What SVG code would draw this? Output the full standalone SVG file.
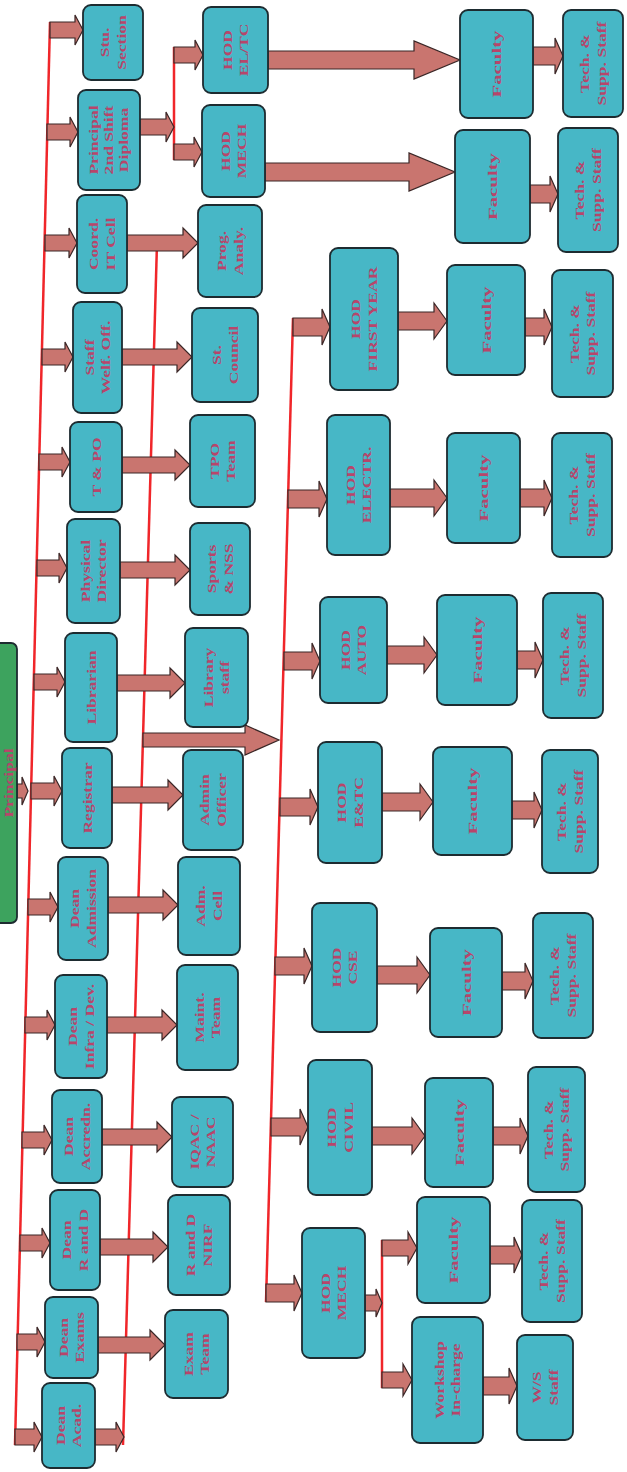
<svg xmlns="http://www.w3.org/2000/svg" width="627" height="1472" viewBox="0 0 627 1472">
<style>
.box{fill:#47b7c6;stroke:#1d2b30;stroke-width:1.8}
.top{fill:#3da35e;stroke:#1d2b30;stroke-width:1.8}
.arr{fill:#c9756f;stroke:#3a2626;stroke-width:1.2;stroke-linejoin:miter}
.bus{fill:none;stroke:#f0262a;stroke-width:2.5}
.lbl{font-family:"Liberation Serif",serif;font-weight:bold;font-size:13px;fill:#b8456a;text-anchor:middle}
</style>
<rect width="627" height="1472" fill="#ffffff"/>
<g id="connectors">
<path class="bus" d="M50,22 L15,1445"/>
<path class="bus" d="M157,243 L123,1445"/>
<path class="bus" d="M293,318 L266,1302"/>
<path class="bus" d="M174,47 L174,160"/>
<path class="bus" d="M382,1240 L382,1388"/>
<polygon class="arr" points="17,784 22,784 22,777 28,791 22,805 22,798 17,798"/>
<polygon class="arr" points="50,22 75,22 75,15 83,30 75,45 75,38 50,38"/>
<polygon class="arr" points="47,124 70,124 70,117 78,132 70,147 70,140 47,140"/>
<polygon class="arr" points="45,235 69,235 69,228 77,243 69,258 69,251 45,251"/>
<polygon class="arr" points="42,349 65,349 65,342 73,357 65,372 65,365 42,365"/>
<polygon class="arr" points="39,454 62,454 62,447 70,462 62,477 62,470 39,470"/>
<polygon class="arr" points="37,560 59,560 59,553 67,568 59,583 59,576 37,576"/>
<polygon class="arr" points="34,674 57,674 57,667 65,682 57,697 57,690 34,690"/>
<polygon class="arr" points="31,783 54,783 54,776 62,791 54,806 54,799 31,799"/>
<polygon class="arr" points="28,899 50,899 50,892 58,907 50,922 50,915 28,915"/>
<polygon class="arr" points="25,1017 47,1017 47,1010 55,1025 47,1040 47,1033 25,1033"/>
<polygon class="arr" points="22,1132 44,1132 44,1125 52,1140 44,1155 44,1148 22,1148"/>
<polygon class="arr" points="20,1235 42,1235 42,1228 50,1243 42,1258 42,1251 20,1251"/>
<polygon class="arr" points="17,1334 37,1334 37,1327 45,1342 37,1357 37,1350 17,1350"/>
<polygon class="arr" points="15,1429 34,1429 34,1422 42,1437 34,1452 34,1445 15,1445"/>
<polygon class="arr" points="127,235 183,235 183,228 198,243 183,258 183,251 127,251"/>
<polygon class="arr" points="122,349 177,349 177,342 192,357 177,372 177,365 122,365"/>
<polygon class="arr" points="122,457 175,457 175,450 190,465 175,480 175,473 122,473"/>
<polygon class="arr" points="120,562 175,562 175,555 190,570 175,585 175,578 120,578"/>
<polygon class="arr" points="117,675 170,675 170,668 185,683 170,698 170,691 117,691"/>
<polygon class="arr" points="112,787 168,787 168,780 183,795 168,810 168,803 112,803"/>
<polygon class="arr" points="108,897 163,897 163,890 178,905 163,920 163,913 108,913"/>
<polygon class="arr" points="107,1017 162,1017 162,1010 177,1025 162,1040 162,1033 107,1033"/>
<polygon class="arr" points="102,1129 157,1129 157,1122 172,1137 157,1152 157,1145 102,1145"/>
<polygon class="arr" points="100,1239 153,1239 153,1232 168,1247 153,1262 153,1255 100,1255"/>
<polygon class="arr" points="98,1337 150,1337 150,1330 165,1345 150,1360 150,1353 98,1353"/>
<polygon class="arr" points="95,1429 116,1429 116,1422 124,1437 116,1452 116,1445 95,1445"/>
<polygon class="arr" points="140,119 166,119 166,112 174,127 166,142 166,135 140,135"/>
<polygon class="arr" points="174,47 195,47 195,40 203,55 195,70 195,63 174,63"/>
<polygon class="arr" points="174,144 194,144 194,137 202,152 194,167 194,160 174,160"/>
<polygon class="arr" points="268,51 414,51 414,41 460,60 414,79 414,69 268,69"/>
<polygon class="arr" points="265,163 409,163 409,153 455,172 409,191 409,181 265,181"/>
<polygon class="arr" points="533,47 555,47 555,38 563,56 555,74 555,65 533,65"/>
<polygon class="arr" points="530,185 550,185 550,176 558,194 550,212 550,203 530,203"/>
<polygon class="arr" points="143,733 245,733 245,725 279,740 245,755 245,747 143,747"/>
<polygon class="arr" points="293,318 322,318 322,309 330,327 322,345 322,336 293,336"/>
<polygon class="arr" points="288,490 319,490 319,481 327,499 319,517 319,508 288,508"/>
<polygon class="arr" points="284,652 312,652 312,643 320,661 312,679 312,670 284,670"/>
<polygon class="arr" points="280,798 310,798 310,789 318,807 310,825 310,816 280,816"/>
<polygon class="arr" points="275,957 304,957 304,948 312,966 304,984 304,975 275,975"/>
<polygon class="arr" points="271,1118 300,1118 300,1109 308,1127 300,1145 300,1136 271,1136"/>
<polygon class="arr" points="266,1284 294,1284 294,1275 302,1293 294,1311 294,1302 266,1302"/>
<polygon class="arr" points="398,312 434,312 434,303 447,321 434,339 434,330 398,330"/>
<polygon class="arr" points="390,489 434,489 434,480 447,498 434,516 434,507 390,507"/>
<polygon class="arr" points="387,646 424,646 424,637 437,655 424,673 424,664 387,664"/>
<polygon class="arr" points="382,793 420,793 420,784 433,802 420,820 420,811 382,811"/>
<polygon class="arr" points="377,966 417,966 417,957 430,975 417,993 417,984 377,984"/>
<polygon class="arr" points="372,1127 412,1127 412,1118 425,1136 412,1154 412,1145 372,1145"/>
<polygon class="arr" points="525,318 544,318 544,309 552,327 544,345 544,336 525,336"/>
<polygon class="arr" points="520,489 544,489 544,480 552,498 544,516 544,507 520,507"/>
<polygon class="arr" points="517,651 535,651 535,642 543,660 535,678 535,669 517,669"/>
<polygon class="arr" points="512,801 534,801 534,792 542,810 534,828 534,819 512,819"/>
<polygon class="arr" points="502,972 525,972 525,963 533,981 525,999 525,990 502,990"/>
<polygon class="arr" points="493,1127 520,1127 520,1118 528,1136 520,1154 520,1145 493,1145"/>
<polygon class="arr" points="490,1246 514,1246 514,1237 522,1255 514,1273 514,1264 490,1264"/>
<polygon class="arr" points="483,1377 509,1377 509,1368 517,1386 509,1404 509,1395 483,1395"/>
<polygon class="arr" points="365,1295 376,1295 376,1289 382,1303 376,1317 376,1311 365,1311"/>
<polygon class="arr" points="382,1240 408,1240 408,1232 417,1248 408,1264 408,1256 382,1256"/>
<polygon class="arr" points="382,1372 403,1372 403,1364 412,1380 403,1396 403,1388 382,1388"/>
</g>

<g id="n-top"><rect class="top" x="-12" y="643" width="29" height="280" rx="6"/><text class="lbl" transform="translate(8,783) rotate(-90) scale(1.35,1)"><tspan x="0" y="4.5">Principal</tspan></text></g>

<g id="n1"><rect class="box" x="83" y="5" width="60" height="75" rx="8"/><text class="lbl" transform="translate(113,42.5) rotate(-90) scale(1.35,1)"><tspan x="0" y="-4">Stu.</tspan><tspan x="0" y="13">Section</tspan></text></g>
<g id="n2"><rect class="box" x="78" y="90" width="62" height="100" rx="8"/><text class="lbl" transform="translate(109,140) rotate(-90) scale(1.35,1)"><tspan x="0" y="-11">Principal</tspan><tspan x="0" y="4">2nd Shift</tspan><tspan x="0" y="19">Diploma</tspan></text></g>
<g id="n3"><rect class="box" x="77" y="195" width="50" height="98" rx="8"/><text class="lbl" transform="translate(102,244) rotate(-90) scale(1.35,1)"><tspan x="0" y="-4">Coord.</tspan><tspan x="0" y="13">IT Cell</tspan></text></g>
<g id="n4"><rect class="box" x="73" y="302" width="49" height="111" rx="8"/><text class="lbl" transform="translate(97.5,357.5) rotate(-90) scale(1.35,1)"><tspan x="0" y="-4">Staff</tspan><tspan x="0" y="13">Welf. Off.</tspan></text></g>
<g id="n5"><rect class="box" x="70" y="422" width="52" height="90" rx="8"/><text class="lbl" transform="translate(96,467) rotate(-90) scale(1.35,1)"><tspan x="0" y="4.5">T &amp; PO</tspan></text></g>
<g id="n6"><rect class="box" x="67" y="519" width="53" height="104" rx="8"/><text class="lbl" transform="translate(93.5,571) rotate(-90) scale(1.35,1)"><tspan x="0" y="-4">Physical</tspan><tspan x="0" y="13">Director</tspan></text></g>
<g id="n7"><rect class="box" x="65" y="633" width="52" height="109" rx="8"/><text class="lbl" transform="translate(91,687.5) rotate(-90) scale(1.35,1)"><tspan x="0" y="4.5">Librarian</tspan></text></g>
<g id="n8"><rect class="box" x="62" y="748" width="50" height="100" rx="8"/><text class="lbl" transform="translate(87,798) rotate(-90) scale(1.35,1)"><tspan x="0" y="4.5">Registrar</tspan></text></g>
<g id="n9"><rect class="box" x="58" y="857" width="50" height="103" rx="8"/><text class="lbl" transform="translate(83,908.5) rotate(-90) scale(1.35,1)"><tspan x="0" y="-4">Dean</tspan><tspan x="0" y="13">Admission</tspan></text></g>
<g id="n10"><rect class="box" x="55" y="975" width="52" height="103" rx="8"/><text class="lbl" transform="translate(81,1026.5) rotate(-90) scale(1.35,1)"><tspan x="0" y="-4">Dean</tspan><tspan x="0" y="13">Infra / Dev.</tspan></text></g>
<g id="n11"><rect class="box" x="52" y="1090" width="50" height="93" rx="8"/><text class="lbl" transform="translate(77,1136.5) rotate(-90) scale(1.35,1)"><tspan x="0" y="-4">Dean</tspan><tspan x="0" y="13">Accredn.</tspan></text></g>
<g id="n12"><rect class="box" x="50" y="1190" width="50" height="100" rx="8"/><text class="lbl" transform="translate(75,1240) rotate(-90) scale(1.35,1)"><tspan x="0" y="-4">Dean</tspan><tspan x="0" y="13">R and D</tspan></text></g>
<g id="n13"><rect class="box" x="45" y="1297" width="53" height="81" rx="8"/><text class="lbl" transform="translate(71.5,1337.5) rotate(-90) scale(1.35,1)"><tspan x="0" y="-4">Dean</tspan><tspan x="0" y="13">Exams</tspan></text></g>
<g id="n14"><rect class="box" x="42" y="1383" width="53" height="85" rx="8"/><text class="lbl" transform="translate(68.5,1425.5) rotate(-90) scale(1.35,1)"><tspan x="0" y="-4">Dean</tspan><tspan x="0" y="13">Acad.</tspan></text></g>

<g id="hod-eltc"><rect class="box" x="203" y="7" width="65" height="86" rx="8"/><text class="lbl" transform="translate(235.5,50) rotate(-90) scale(1.35,1)"><tspan x="0" y="-4">HOD</tspan><tspan x="0" y="13">EL/TC</tspan></text></g>
<g id="hod-mech2"><rect class="box" x="202" y="105" width="63" height="92" rx="8"/><text class="lbl" transform="translate(233.5,151) rotate(-90) scale(1.35,1)"><tspan x="0" y="-4">HOD</tspan><tspan x="0" y="13">MECH</tspan></text></g>
<g id="prog"><rect class="box" x="198" y="205" width="64" height="92" rx="8"/><text class="lbl" transform="translate(230,251) rotate(-90) scale(1.35,1)"><tspan x="0" y="-4">Prog.</tspan><tspan x="0" y="13">Analy.</tspan></text></g>
<g id="council"><rect class="box" x="192" y="308" width="66" height="94" rx="8"/><text class="lbl" transform="translate(225,355) rotate(-90) scale(1.35,1)"><tspan x="0" y="-4">St.</tspan><tspan x="0" y="13">Council</tspan></text></g>
<g id="tpo"><rect class="box" x="190" y="415" width="65" height="92" rx="8"/><text class="lbl" transform="translate(222.5,461) rotate(-90) scale(1.35,1)"><tspan x="0" y="-4">TPO</tspan><tspan x="0" y="13">Team</tspan></text></g>
<g id="sports"><rect class="box" x="190" y="523" width="60" height="92" rx="8"/><text class="lbl" transform="translate(220,569) rotate(-90) scale(1.35,1)"><tspan x="0" y="-4">Sports</tspan><tspan x="0" y="13">&amp; NSS</tspan></text></g>
<g id="library"><rect class="box" x="185" y="628" width="63" height="99" rx="8"/><text class="lbl" transform="translate(216.5,677.5) rotate(-90) scale(1.35,1)"><tspan x="0" y="-4">Library</tspan><tspan x="0" y="13">staff</tspan></text></g>
<g id="admin"><rect class="box" x="183" y="750" width="60" height="100" rx="8"/><text class="lbl" transform="translate(213,800) rotate(-90) scale(1.35,1)"><tspan x="0" y="-4">Admin</tspan><tspan x="0" y="13">Officer</tspan></text></g>
<g id="admcell"><rect class="box" x="178" y="857" width="62" height="98" rx="8"/><text class="lbl" transform="translate(209,906) rotate(-90) scale(1.35,1)"><tspan x="0" y="-4">Adm.</tspan><tspan x="0" y="13">Cell</tspan></text></g>
<g id="maint"><rect class="box" x="177" y="965" width="61" height="105" rx="8"/><text class="lbl" transform="translate(207.5,1017.5) rotate(-90) scale(1.35,1)"><tspan x="0" y="-4">Maint.</tspan><tspan x="0" y="13">Team</tspan></text></g>
<g id="iqac"><rect class="box" x="172" y="1097" width="61" height="90" rx="8"/><text class="lbl" transform="translate(202.5,1142) rotate(-90) scale(1.35,1)"><tspan x="0" y="-4">IQAC /</tspan><tspan x="0" y="13">NAAC</tspan></text></g>
<g id="rnd"><rect class="box" x="168" y="1195" width="62" height="100" rx="8"/><text class="lbl" transform="translate(199,1245) rotate(-90) scale(1.35,1)"><tspan x="0" y="-4">R and D</tspan><tspan x="0" y="13">NIRF</tspan></text></g>
<g id="exam"><rect class="box" x="165" y="1310" width="63" height="88" rx="8"/><text class="lbl" transform="translate(196.5,1354) rotate(-90) scale(1.35,1)"><tspan x="0" y="-4">Exam</tspan><tspan x="0" y="13">Team</tspan></text></g>

<g id="fac-a"><rect class="box" x="460" y="10" width="73" height="108" rx="8"/><text class="lbl" transform="translate(496.5,64) rotate(-90) scale(1.6,1)"><tspan x="0" y="4.5">Faculty</tspan></text></g>
<g id="tech-a"><rect class="box" x="563" y="10" width="60" height="107" rx="8"/><text class="lbl" transform="translate(593,63.5) rotate(-90) scale(1.35,1)"><tspan x="0" y="-4">Tech. &amp;</tspan><tspan x="0" y="13">Supp. Staff</tspan></text></g>
<g id="fac-b"><rect class="box" x="455" y="130" width="75" height="113" rx="8"/><text class="lbl" transform="translate(492.5,186.5) rotate(-90) scale(1.6,1)"><tspan x="0" y="4.5">Faculty</tspan></text></g>
<g id="tech-b"><rect class="box" x="558" y="128" width="60" height="124" rx="8"/><text class="lbl" transform="translate(588,190) rotate(-90) scale(1.35,1)"><tspan x="0" y="-4">Tech. &amp;</tspan><tspan x="0" y="13">Supp. Staff</tspan></text></g>

<g id="hod-fy"><rect class="box" x="330" y="248" width="68" height="142" rx="8"/><text class="lbl" transform="translate(364,319) rotate(-90) scale(1.35,1)"><tspan x="0" y="-4">HOD</tspan><tspan x="0" y="13">FIRST YEAR</tspan></text></g>
<g id="hod-el"><rect class="box" x="327" y="415" width="63" height="140" rx="8"/><text class="lbl" transform="translate(358.5,485) rotate(-90) scale(1.35,1)"><tspan x="0" y="-4">HOD</tspan><tspan x="0" y="13">ELECTR.</tspan></text></g>
<g id="hod-auto"><rect class="box" x="320" y="597" width="67" height="106" rx="8"/><text class="lbl" transform="translate(353.5,650) rotate(-90) scale(1.35,1)"><tspan x="0" y="-4">HOD</tspan><tspan x="0" y="13">AUTO</tspan></text></g>
<g id="hod-entc"><rect class="box" x="318" y="742" width="64" height="121" rx="8"/><text class="lbl" transform="translate(350,802.5) rotate(-90) scale(1.35,1)"><tspan x="0" y="-4">HOD</tspan><tspan x="0" y="13">E&amp;TC</tspan></text></g>
<g id="hod-cse"><rect class="box" x="312" y="903" width="65" height="129" rx="8"/><text class="lbl" transform="translate(344.5,967.5) rotate(-90) scale(1.35,1)"><tspan x="0" y="-4">HOD</tspan><tspan x="0" y="13">CSE</tspan></text></g>
<g id="hod-civil"><rect class="box" x="308" y="1060" width="64" height="135" rx="8"/><text class="lbl" transform="translate(340,1127.5) rotate(-90) scale(1.35,1)"><tspan x="0" y="-4">HOD</tspan><tspan x="0" y="13">CIVIL</tspan></text></g>
<g id="hod-mech"><rect class="box" x="302" y="1228" width="63" height="130" rx="8"/><text class="lbl" transform="translate(333.5,1293) rotate(-90) scale(1.35,1)"><tspan x="0" y="-4">HOD</tspan><tspan x="0" y="13">MECH</tspan></text></g>

<g id="fac-fy"><rect class="box" x="447" y="265" width="78" height="110" rx="8"/><text class="lbl" transform="translate(486,320) rotate(-90) scale(1.6,1)"><tspan x="0" y="4.5">Faculty</tspan></text></g>
<g id="fac-el"><rect class="box" x="447" y="433" width="73" height="110" rx="8"/><text class="lbl" transform="translate(483.5,488) rotate(-90) scale(1.6,1)"><tspan x="0" y="4.5">Faculty</tspan></text></g>
<g id="fac-auto"><rect class="box" x="437" y="595" width="80" height="110" rx="8"/><text class="lbl" transform="translate(477,650) rotate(-90) scale(1.6,1)"><tspan x="0" y="4.5">Faculty</tspan></text></g>
<g id="fac-entc"><rect class="box" x="433" y="747" width="79" height="108" rx="8"/><text class="lbl" transform="translate(472.5,801) rotate(-90) scale(1.6,1)"><tspan x="0" y="4.5">Faculty</tspan></text></g>
<g id="fac-cse"><rect class="box" x="430" y="928" width="72" height="109" rx="8"/><text class="lbl" transform="translate(466,982.5) rotate(-90) scale(1.6,1)"><tspan x="0" y="4.5">Faculty</tspan></text></g>
<g id="fac-civil"><rect class="box" x="425" y="1078" width="68" height="109" rx="8"/><text class="lbl" transform="translate(459,1132.5) rotate(-90) scale(1.6,1)"><tspan x="0" y="4.5">Faculty</tspan></text></g>
<g id="fac-mech"><rect class="box" x="417" y="1197" width="73" height="106" rx="8"/><text class="lbl" transform="translate(453.5,1250) rotate(-90) scale(1.6,1)"><tspan x="0" y="4.5">Faculty</tspan></text></g>

<g id="tech-fy"><rect class="box" x="552" y="270" width="61" height="127" rx="8"/><text class="lbl" transform="translate(582.5,333.5) rotate(-90) scale(1.35,1)"><tspan x="0" y="-4">Tech. &amp;</tspan><tspan x="0" y="13">Supp. Staff</tspan></text></g>
<g id="tech-el"><rect class="box" x="552" y="433" width="60" height="124" rx="8"/><text class="lbl" transform="translate(582,495) rotate(-90) scale(1.35,1)"><tspan x="0" y="-4">Tech. &amp;</tspan><tspan x="0" y="13">Supp. Staff</tspan></text></g>
<g id="tech-auto"><rect class="box" x="543" y="593" width="60" height="125" rx="8"/><text class="lbl" transform="translate(573,655.5) rotate(-90) scale(1.35,1)"><tspan x="0" y="-4">Tech. &amp;</tspan><tspan x="0" y="13">Supp. Staff</tspan></text></g>
<g id="tech-entc"><rect class="box" x="542" y="750" width="56" height="123" rx="8"/><text class="lbl" transform="translate(570,811.5) rotate(-90) scale(1.35,1)"><tspan x="0" y="-4">Tech. &amp;</tspan><tspan x="0" y="13">Supp. Staff</tspan></text></g>
<g id="tech-cse"><rect class="box" x="533" y="913" width="60" height="125" rx="8"/><text class="lbl" transform="translate(563,975.5) rotate(-90) scale(1.35,1)"><tspan x="0" y="-4">Tech. &amp;</tspan><tspan x="0" y="13">Supp. Staff</tspan></text></g>
<g id="tech-civil"><rect class="box" x="528" y="1067" width="57" height="125" rx="8"/><text class="lbl" transform="translate(556.5,1129.5) rotate(-90) scale(1.35,1)"><tspan x="0" y="-4">Tech. &amp;</tspan><tspan x="0" y="13">Supp. Staff</tspan></text></g>
<g id="tech-mech"><rect class="box" x="522" y="1200" width="60" height="122" rx="8"/><text class="lbl" transform="translate(552,1261) rotate(-90) scale(1.35,1)"><tspan x="0" y="-4">Tech. &amp;</tspan><tspan x="0" y="13">Supp. Staff</tspan></text></g>

<g id="workshop"><rect class="box" x="412" y="1317" width="71" height="126" rx="8"/><text class="lbl" transform="translate(447.5,1380) rotate(-90) scale(1.35,1)"><tspan x="0" y="-4">Workshop</tspan><tspan x="0" y="13">In-charge</tspan></text></g>
<g id="ws-staff"><rect class="box" x="517" y="1335" width="56" height="105" rx="8"/><text class="lbl" transform="translate(545,1387.5) rotate(-90) scale(1.35,1)"><tspan x="0" y="-4">W/S</tspan><tspan x="0" y="13">Staff</tspan></text></g>
</svg>
